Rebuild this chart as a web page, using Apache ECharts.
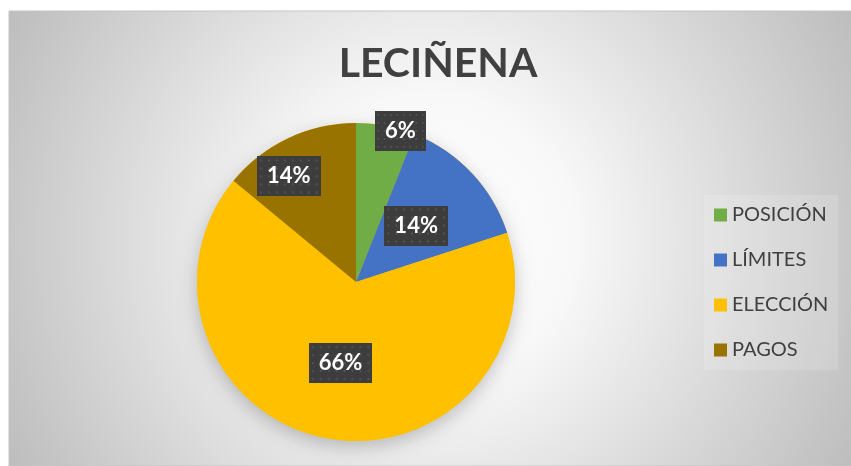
<!DOCTYPE html>
<html>
<head>
<meta charset="utf-8">
<script src="https://cdn.jsdelivr.net/npm/echarts@6/dist/echarts.min.js"></script>
<style>
  html, body { margin: 0; padding: 0; background: #fff; }
  #chart { width: 851px; height: 466px; }
</style>
</head>
<body>
<div id="chart"></div>
<script>
// datos del gráfico
const categories = ["POSICIÓN", "LÍMITES", "ELECCIÓN", "PAGOS"];
const values = [6, 14, 66, 14];
const colors = ["#70AD47", "#4472C4", "#FFC000", "#997300"];

// fondo punteado de las etiquetas
const makeDots = () => {
  const c = document.createElement("canvas");
  c.width = 64;
  c.height = 40;
  const ctx = c.getContext("2d");
  ctx.fillStyle = "#3d3d3d";
  ctx.fillRect(0, 0, c.width, c.height);
  ctx.fillStyle = "#535353";
  for (let y = 3; y < c.height; y += 8) {
    for (let x = 3; x < c.width; x += 8) {
      ctx.fillRect(x, y, 2, 2);
    }
  }
  return c;
};
const dots = makeDots();

// desplazamiento de etiquetas (ajuste "best fit" de Excel)
const labelShift = {
  0: { dx: 29, dy: -70 },
  3: { dx: -32, dy: -31 },
};

const total = values.reduce((a, b) => a + b, 0);

const chart = echarts.init(document.getElementById("chart"));

const options = {
  animation: false,
  color: colors,
  graphic: {
    elements: [
      {
        type: "rect",
        z: -10,
        silent: true,
        shape: { x: 9, y: 11, width: 842, height: 455 },
        style: {
          fill: new echarts.graphic.RadialGradient(0.5, 0.5, 1.05, [
            { offset: 0, color: "#ffffff" },
            { offset: 0.3, color: "#f8f8f8" },
            { offset: 1, color: "#bdbdbd" },
          ]),
          stroke: "#c4c4c4",
          lineWidth: 1,
        },
      },
    ],
  },
  title: {
    text: "LECIÑENA",
    left: 433,
    top: 38,
    textAlign: "center",
    textStyle: {
      fontFamily: "Lato",
      fontWeight: "bold",
      fontSize: 41,
      color: "#404040",
    },
  },
  legend: {
    orient: "vertical",
    left: 704,
    top: 195,
    padding: [10, 10, 10, 10],
    backgroundColor: "rgba(255,255,255,0.15)",
    itemWidth: 13,
    itemHeight: 13,
    itemGap: 25,
    icon: "rect",
    data: categories,
    textStyle: {
      fontFamily: "Lato",
      fontSize: 20,
      color: "#404040",
    },
  },
  series: [
    {
      // sombra del pastel
      type: "pie",
      silent: true,
      z: 1,
      center: [356, 282],
      radius: 159,
      label: { show: false },
      labelLine: { show: false },
      itemStyle: {
        color: "#FFC000",
        shadowBlur: 18,
        shadowOffsetY: 6,
        shadowColor: "rgba(0,0,0,0.22)",
      },
      data: [{ name: "", value: total }],
    },
    {
      name: "LECIÑENA",
      type: "pie",
      z: 2,
      center: [356, 282],
      radius: 159,
      startAngle: 90,
      clockwise: true,
      percentPrecision: 0,
      data: categories.map((name, i) => ({ name, value: values[i] })),
      itemStyle: { borderWidth: 0 },
      label: {
        show: true,
        position: "inside",
        formatter: "{d}%",
        fontFamily: "Lato",
        fontWeight: "bold",
        fontSize: 22,
        lineHeight: 22,
        color: "#ffffff",
        padding: [10, 10, 8, 10],
        backgroundColor: { image: dots },
        shadowBlur: 5,
        shadowOffsetX: 3,
        shadowOffsetY: 3,
        shadowColor: "rgba(0,0,0,0.45)",
      },
      labelLine: { show: false },
      labelLayout: (params) => labelShift[params.dataIndex] || {},
      emphasis: { disabled: true },
    },
  ],
};

chart.setOption(options);

window.addEventListener("resize", () => {
  chart.resize();
});
</script>
</body>
</html>
